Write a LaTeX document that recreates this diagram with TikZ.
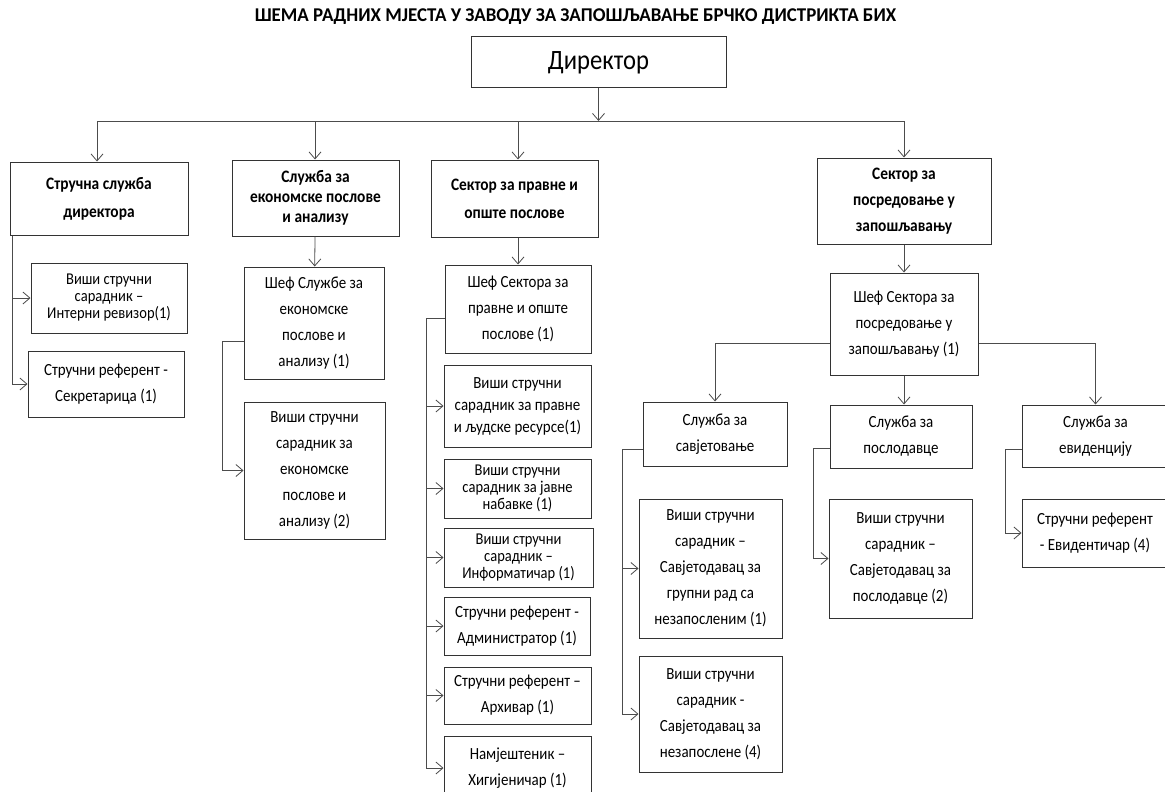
\documentclass[tikz,border=0pt]{standalone}
\usepackage{fontspec}
\setmainfont{Carlito}[FakeStretch=0.88]
\newfontfamily\titlefont{Carlito}[FakeStretch=0.97]
\usetikzlibrary{arrows.meta}

\tikzset{
  box/.style={draw=black!80, line width=1pt, align=center, inner sep=1pt},
  sz/.style 2 args={minimum width=#1, minimum height=#2},
  head/.style={box, font=\bfseries\fontsize{17.5}{28}\selectfont},
  tight/.style={box, font=\fontsize{16.5}{17}\selectfont},
  mid/.style={box, font=\fontsize{17}{22}\selectfont},
  wide/.style={box, font=\fontsize{17}{26}\selectfont},
  wire/.style={draw=black!70, line width=0.8pt},
  link/.style={wire, -{Straight Barb[length=7pt,width=12pt]}}
}

\begin{document}
\begin{tikzpicture}[x=1pt, y=-1pt]
  \useasboundingbox[fill=white] (0,0) rectangle (1165,792);

  \node[font=\titlefont\bfseries\fontsize{19.5}{20}\selectfont] (title) at (575.5,17)
    {ШЕМА РАДНИХ МЈЕСТА У ЗАВОДУ ЗА ЗАПОШЉАВАЊЕ БРЧКО ДИСТРИКТА БИХ};
  \node[box, sz={255}{51}, font=\fontsize{28}{30}\selectfont] (dir) at (598.5,62.5) {Директор};

  % first level
  \node[head, sz={178}{73}] (strucna) at (99,198.5) {Стручна служба\\директора};
  \node[head, sz={167}{76}, font=\bfseries\fontsize{17.5}{20}\selectfont] (ekon) at (315.5,198)
    {Служба за\\економске послове\\и анализу};
  \node[head, sz={167}{77}] (pravne) at (514.5,198.5) {Сектор за правне и\\опште послове};
  \node[head, sz={174}{86}, font=\bfseries\fontsize{17.5}{26}\selectfont] (posr) at (904,201)
    {Сектор за\\посредовање у\\запошљавању};

  % strucna sluzba
  \node[tight, sz={156}{70}] (revizor) at (109,298) {Виши стручни\\сарадник –\\Интерни ревизор(1)};
  \node[wide, sz={156}{66}] (sekr) at (106,384) {Стручни референт -\\Секретарица (1)};

  % ekonomske
  \node[wide, sz={140}{112}] (sefekon) at (314,323) {Шеф Службе за\\економске\\послове и\\анализу (1)};
  \node[wide, sz={141}{137}] (visekon) at (314.5,470.5)
    {Виши стручни\\сарадник за\\економске\\послове и\\анализу (2)};

  % pravne
  \node[wide, sz={146}{88}] (sefprav) at (518,309) {Шеф Сектора за\\правне и опште\\послове (1)};
  \node[mid, sz={147}{82}] (ljudski) at (517.5,406) {Виши стручни\\сарадник за правне\\и људске ресурсе(1)};
  \node[tight, sz={147}{59}] (nabavke) at (517.5,488.5) {Виши стручни\\сарадник за јавне\\набавке (1)};
  \node[tight, sz={149}{59}] (inform) at (518.5,557.5) {Виши стручни\\сарадник –\\Информатичар (1)};
  \node[wide, sz={146}{58}] (admin) at (517,626) {Стручни референт -\\Администратор (1)};
  \node[wide, sz={147}{57}] (arhiv) at (517.5,695.5) {Стручни референт –\\Архивар (1)};
  \node[wide, sz={147}{64}] (higij) at (517.5,768) {Намјештеник –\\Хигијеничар (1)};

  % posredovanje
  \node[wide, sz={148}{102}] (sefposr) at (904,324) {Шеф Сектора за\\посредовање у\\запошљавању (1)};
  \node[wide, sz={144}{64}] (savjet) at (715,434) {Служба за\\савјетовање};
  \node[wide, sz={142}{63}] (poslod) at (901,436.5) {Служба за\\послодавце};
  \node[wide, sz={146}{62}] (evid) at (1095.5,436) {Служба за\\евиденцију};
  \node[wide, sz={143}{139}] (grupni) at (710.5,568.5)
    {Виши стручни\\сарадник –\\Савјетодавац за\\групни рад са\\незапосленим (1)};
  \node[wide, sz={143}{116}] (nezap) at (710.5,714)
    {Виши стручни\\сарадник -\\Савјетодавац за\\незапослене (4)};
  \node[wide, sz={143}{119}] (savposl) at (900.5,558.5)
    {Виши стручни\\сарадник –\\Савјетодавац за\\послодавце (2)};
  \node[wide, sz={146}{68}] (evidref) at (1095,533) {Стручни референт\\- Евидентичар (4)};

  % connectors
  \coordinate (bus) at (dir.south |- 0,121);
  \draw[link] (dir) -- (bus);
  \draw[wire] (97,121) -- (posr.north |- bus);
  \foreach \n/\x in {strucna/97, ekon/315, pravne/518, posr/904}
    \draw[link] (\x,121) -- (\x,0 |- \n.north);

  \draw[link] ([xshift=3pt]strucna.south west) |- (revizor);
  \draw[link] ([xshift=3pt]strucna.south west) |- (sekr);

  \draw[link] (ekon) -- (sefekon);
  \draw[link] ([yshift=-18pt]sefekon.west) -- ++(-21,0) |- (visekon);

  \draw[link] (pravne.south -| sefprav) -- (sefprav);
  \coordinate (pbar) at ([yshift=-9pt]sefprav.west);
  \foreach \n in {ljudski, nabavke, inform, admin, arhiv, higij}
    \draw[link] (pbar) -- ++(-18,0) |- (\n);

  \draw[link] (posr) -- (sefposr);
  \draw[link] ([yshift=-19pt]sefposr.west) -| (savjet);
  \draw[link] (sefposr.south) -- (sefposr.south |- poslod.north);
  \draw[link] ([yshift=-19pt]sefposr.east) -| (evid);

  \draw[link] ([yshift=-15pt]savjet.west) -- ++(-20,0) |- (grupni);
  \draw[link] ([yshift=-15pt]savjet.west) -- ++(-20,0) |- (nezap);
  \draw[link] ([yshift=-12pt]poslod.west) -- ++(-16,0) |- (savposl);
  \draw[link] ([yshift=-13pt]evid.west) -- ++(-17,0) |- (evidref);
\end{tikzpicture}
\end{document}
